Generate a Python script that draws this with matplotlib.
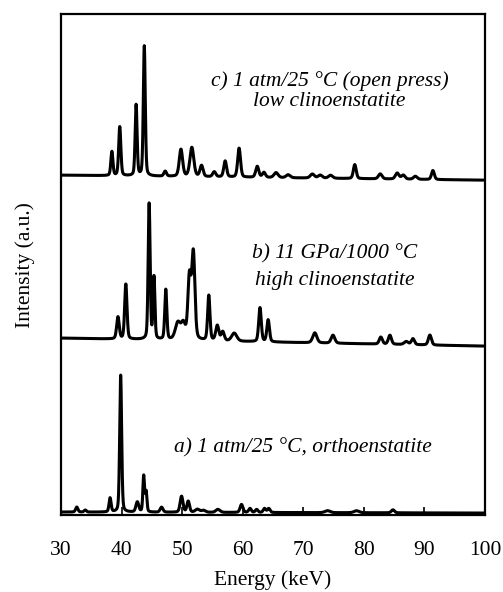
import numpy as np
import matplotlib
matplotlib.use("Agg")
import matplotlib.pyplot as plt

plt.rcParams["font.family"] = ["Liberation Serif", "DejaVu Serif"]

# peak lists: position (keV), height (a.u.), FWHM (keV)
ortho_pos = [32.6, 34.0, 38.1, 39.85, 42.6, 43.65, 44.05, 46.6, 49.9, 51.0,
             52.5, 53.5, 55.9, 59.8, 61.2, 62.3, 63.6, 64.3, 74.0, 78.8, 84.8]
ortho_height = [5, 2, 14, 137, 10, 36, 20, 5, 16, 11,
                3, 2, 3, 8, 4, 3, 4, 4, 2, 2, 3]
ortho_fwhm = [0.45, 0.45, 0.4, 0.38, 0.55, 0.32, 0.32, 0.55, 0.55, 0.5,
              0.8, 0.8, 0.8, 0.55, 0.5, 0.5, 0.5, 0.5, 1.0, 1.0, 0.6]
ortho_bg = [3, 2]

high_pos = [39.4, 40.7, 44.55, 45.35, 47.3, 49.3, 50.2, 51.2, 51.85, 54.4,
            55.8, 56.7, 58.6, 62.85, 64.2, 71.9, 74.9, 82.8, 84.3, 87.0, 88.1, 90.9]
high_height = [22, 55, 136, 62, 50, 17, 15, 62, 86, 45,
               15, 9, 8, 34, 22, 10, 8, 7, 9, 3, 6, 10]
high_fwhm = [0.5, 0.45, 0.38, 0.35, 0.4, 1.0, 0.8, 0.6, 0.6, 0.45,
             0.6, 0.6, 1.0, 0.5, 0.5, 0.8, 0.7, 0.6, 0.6, 0.8, 0.6, 0.6]
high_bg = [177, 169]

low_pos = [38.4, 39.7, 42.4, 43.75, 47.2, 49.8, 51.6, 53.2, 55.3, 57.1,
           59.4, 62.4, 63.5, 65.5, 67.5, 71.5, 72.8, 74.5, 78.5, 82.7,
           85.5, 86.5, 88.5, 91.4]
low_height = [24, 49, 71, 130, 5, 27, 29, 11, 5, 16,
              29, 11, 5, 5, 3, 4, 3, 3, 14, 5,
              6, 4, 3, 9]
low_fwhm = [0.4, 0.42, 0.38, 0.38, 0.5, 0.65, 0.75, 0.6, 0.6, 0.55,
            0.55, 0.6, 0.6, 0.8, 0.8, 0.8, 0.8, 0.8, 0.55, 0.7,
            0.7, 0.7, 0.7, 0.55]
low_bg = [340, 335]

labels = [
    "a) 1 atm/25 °C, orthoenstatite",
    "b) 11 GPa/1000 °C\nhigh clinoenstatite",
    "c) 1 atm/25 °C (open press)\nlow clinoenstatite",
]


def pattern(energy, pos, height, fwhm, bg):
    """Sum of pseudo-Voigt peaks on a straight background."""
    y = np.interp(energy, [30, 100], bg)
    for p, h, w in zip(pos, height, fwhm):
        g = np.exp(-4 * np.log(2) * ((energy - p) / w) ** 2)
        l = 1.0 / (1 + 4 * ((energy - p) / w) ** 2)
        y = y + h * (0.7 * g + 0.3 * l)
    return y


energy = np.linspace(30, 100, 3000)

fig = plt.figure(figsize=(5.03, 5.92), dpi=100)
ax = fig.add_axes([0.1213, 0.130, 0.8429, 0.846])

for pos, height, fwhm, bg in [(ortho_pos, ortho_height, ortho_fwhm, ortho_bg),
                              (high_pos, high_height, high_fwhm, high_bg),
                              (low_pos, low_height, low_fwhm, low_bg)]:
    ax.plot(energy, pattern(energy, pos, height, fwhm, bg), color="black", lw=2.2,
            solid_joinstyle="round")

ax.text(69.9, 67, labels[0], ha="center", va="center", fontsize=15.5, style="italic")
ax.text(75.2, 248, labels[1], ha="center", va="center", fontsize=15.5, style="italic",
        linespacing=1.5)
ax.text(74.3, 424, labels[2], ha="center", va="center", fontsize=15.5, style="italic",
        linespacing=1.05)

ax.set_xlim(30, 100)
ax.set_ylim(0, 501)
ax.set_xticks(range(30, 101, 10))
ax.set_yticks([])
ax.tick_params(axis="x", direction="in", length=6, width=1.2, labelsize=15.5, pad=19)
for s in ax.spines.values():
    s.set_linewidth(1.6)

ax.set_xlabel("Energy (keV)", fontsize=15.5, labelpad=7)
ax.set_ylabel("Intensity (a.u.)", fontsize=15.5, labelpad=19)

fig.savefig("out.png", dpi=100)
